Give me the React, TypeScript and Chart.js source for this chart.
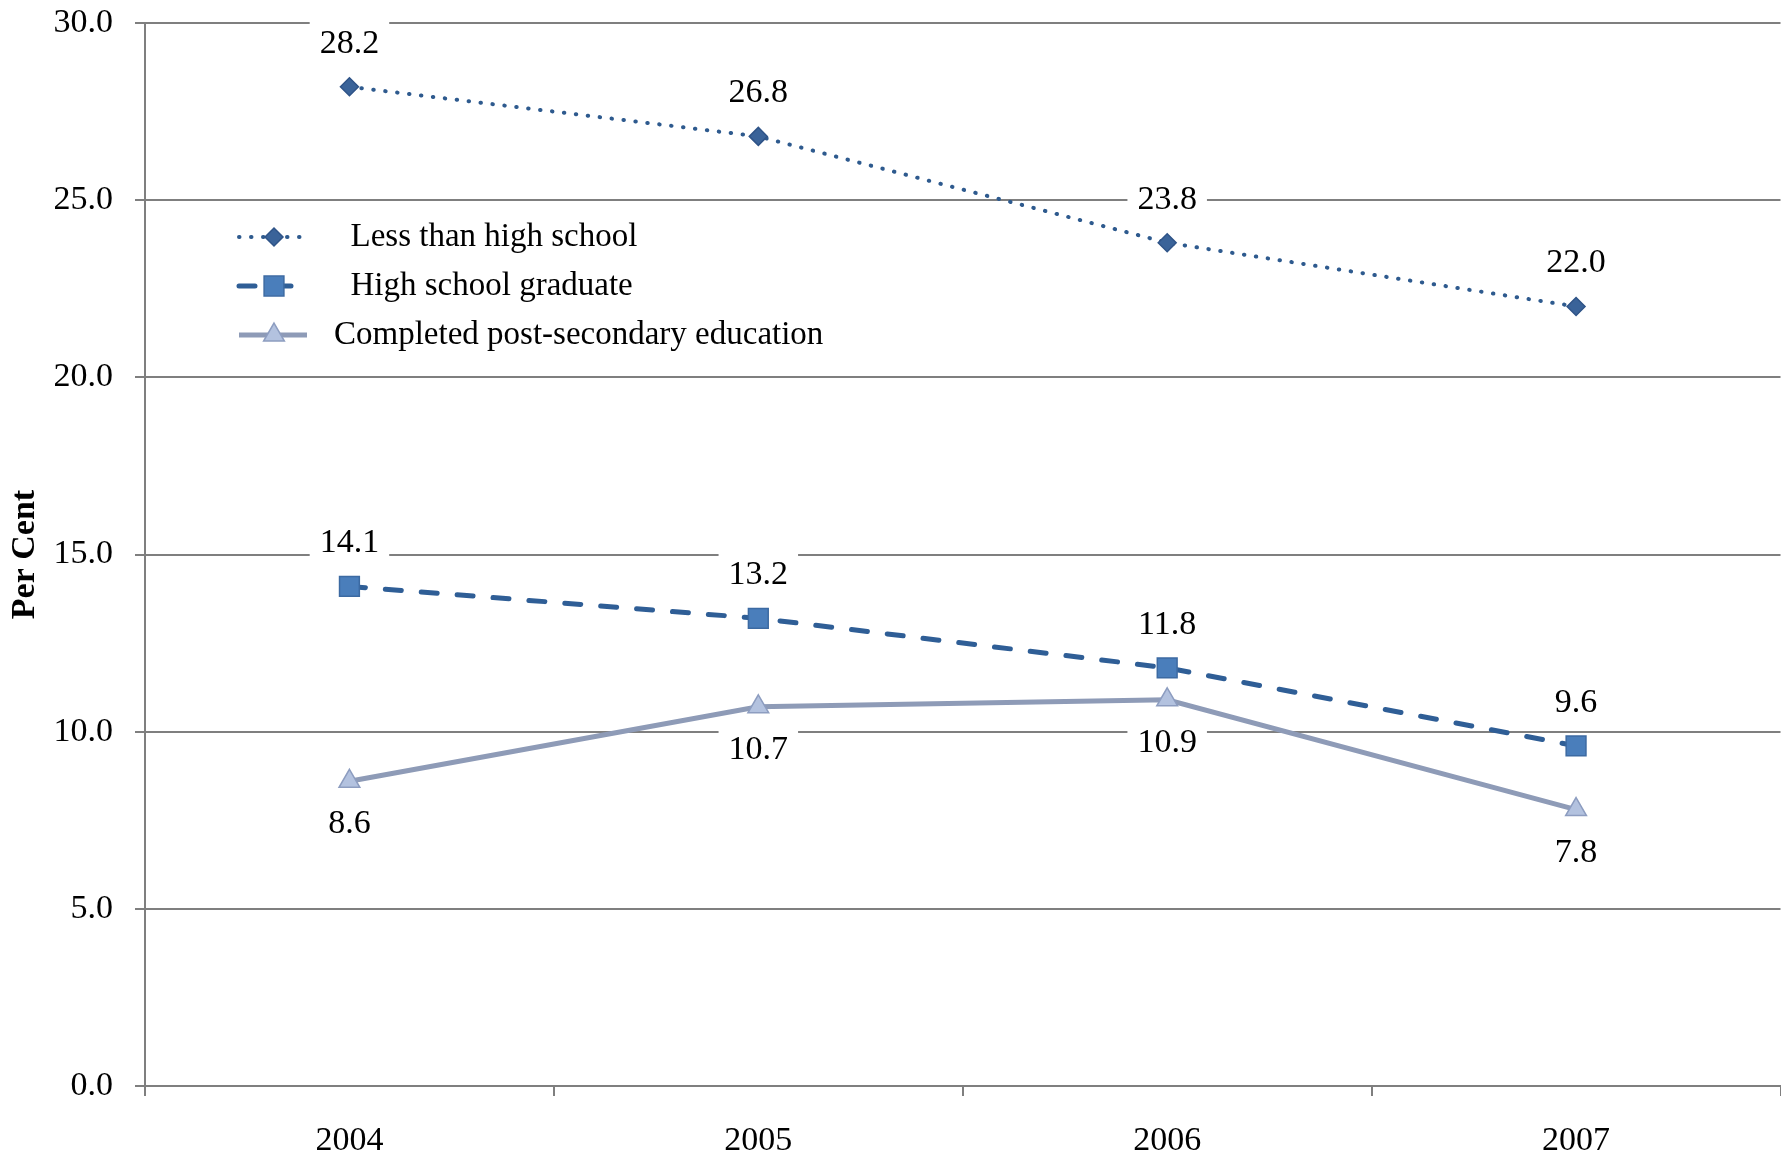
import React, { useEffect, useRef } from "react";
import { Chart, registerables } from "chart.js";

Chart.register(...registerables);

// ---- data ----
const categories = ["2004", "2005", "2006", "2007"];
const lessThanHighSchool = [28.2, 26.8, 23.8, 22.0];
const highSchoolGraduate = [14.1, 13.2, 11.8, 9.6];
const postSecondary = [8.6, 10.7, 10.9, 7.8];
const seriesLabels = [
  "  Less than high school",
  "  High school graduate",
  "Completed post-secondary education",
];
const labelPlacement = ["above", "above", "below"];
const yMin = 0;
const yMax = 30;
const yStep = 5;
const yTitle = "Per Cent";

const FONT = '"Liberation Serif", "Times New Roman", serif';
const GRID = "#7F7F7F";

type Marker = { style: string; radius: number; fill: string; stroke: string };

function drawMarker(ctx: CanvasRenderingContext2D, m: Marker, x: number, y: number) {
  ctx.save();
  ctx.fillStyle = m.fill;
  ctx.strokeStyle = m.stroke;
  ctx.lineWidth = 1.5;
  ctx.setLineDash([]);
  ctx.beginPath();
  const r = m.radius;
  if (m.style === "rectRot") {
    ctx.moveTo(x - r, y);
    ctx.lineTo(x, y - r);
    ctx.lineTo(x + r, y);
    ctx.lineTo(x, y + r);
    ctx.closePath();
  } else if (m.style === "rect") {
    const s = Math.SQRT1_2 * r;
    ctx.rect(x - s, y - s, 2 * s, 2 * s);
  } else {
    for (let k = 0; k < 3; k++) {
      const a = (k * 2 * Math.PI) / 3;
      const px = x + Math.sin(a) * r;
      const py = y - Math.cos(a) * r;
      if (k === 0) ctx.moveTo(px, py);
      else ctx.lineTo(px, py);
    }
    ctx.closePath();
  }
  ctx.fill();
  ctx.stroke();
  ctx.restore();
}

const dataLabelPlugin = {
  id: "dataLabelsCustom",
  afterDatasetsDraw(chart: any) {
    const ctx: CanvasRenderingContext2D = chart.ctx;
    ctx.save();
    ctx.font = `34px ${FONT}`;
    ctx.textAlign = "center";
    ctx.textBaseline = "middle";
    chart.data.datasets.forEach((ds: any, i: number) => {
      const meta = chart.getDatasetMeta(i);
      const above = labelPlacement[i] === "above";
      meta.data.forEach((pt: any, j: number) => {
        const text = Number(ds.data[j]).toFixed(1);
        const x = pt.x;
        const y = pt.y + (above ? -44 : 42);
        const w = ctx.measureText(text).width + 20;
        const h = 46;
        ctx.fillStyle = "#ffffff";
        ctx.fillRect(x - w / 2, y - h / 2, w, h);
        ctx.fillStyle = "#000000";
        ctx.fillText(text, x, y + 1);
      });
    });
    ctx.restore();
  },
};

const legendPlugin = {
  id: "legendCustom",
  afterDraw(chart: any) {
    const ctx: CanvasRenderingContext2D = chart.ctx;
    const area = chart.chartArea;
    const x0 = area.left + 94;
    const x1 = area.left + 162;
    const mx = area.left + 129;
    const tx = area.left + 189;
    const rowY = [area.top + 214, area.top + 263, area.top + 312];
    chart.data.datasets.forEach((ds: any, i: number) => {
      const y = rowY[i];
      ctx.save();
      ctx.strokeStyle = ds.borderColor;
      ctx.lineWidth = ds.borderWidth;
      ctx.lineCap = ds.borderCapStyle || "butt";
      ctx.setLineDash(ds.borderDash || []);
      ctx.beginPath();
      ctx.moveTo(x0, y);
      ctx.lineTo(x1, y);
      ctx.stroke();
      ctx.restore();
      drawMarker(
        ctx,
        {
          style: ds.pointStyle,
          radius: ds.pointRadius,
          fill: ds.pointBackgroundColor,
          stroke: ds.pointBorderColor,
        },
        mx,
        y
      );
      ctx.save();
      ctx.font = `33px ${FONT}`;
      ctx.fillStyle = "#000";
      ctx.textAlign = "left";
      ctx.textBaseline = "middle";
      ctx.fillText(ds.label, tx, y);
      ctx.restore();
    });
  },
};

function zeroPadding(scale: any) {
  scale.paddingTop = 0;
  scale.paddingBottom = 0;
  scale.paddingLeft = 0;
  scale.paddingRight = 0;
}

// The line controller reserves ~15.5px of overflow on each side for the
// largest marker; the canvas is made that much wider than the viewport
// (and clipped) so the plot reaches the right edge as in the reference.
const CANVAS_W = 1796;
const CANVAS_H = 1157;

export default function App() {
  const canvasRef = useRef<HTMLCanvasElement | null>(null);

  useEffect(() => {
    if (!canvasRef.current) return;
    const chart = new Chart(canvasRef.current, {
      type: "line",
      data: {
        labels: categories,
        datasets: [
          {
            label: seriesLabels[0],
            data: lessThanHighSchool,
            borderColor: "#2E5A8E",
            borderWidth: 4,
            borderDash: [0.5, 11.5],
            borderCapStyle: "round",
            pointStyle: "rectRot",
            pointRadius: 9,
            pointBackgroundColor: "#3A6399",
            pointBorderColor: "#2F5488",
            pointBorderWidth: 1.5,
            tension: 0,
            fill: false,
          },
          {
            label: seriesLabels[1],
            data: highSchoolGraduate,
            borderColor: "#2F5E96",
            borderWidth: 5,
            borderDash: [16, 20],
            borderCapStyle: "round",
            pointStyle: "rect",
            pointRadius: 14,
            pointBackgroundColor: "#4A7EBB",
            pointBorderColor: "#3C6AA2",
            pointBorderWidth: 1.5,
            tension: 0,
            fill: false,
          },
          {
            label: seriesLabels[2],
            data: postSecondary,
            borderColor: "#8E9BB7",
            borderWidth: 5,
            borderCapStyle: "butt",
            pointStyle: "triangle",
            pointRadius: 12,
            pointBackgroundColor: "#B3C2DF",
            pointBorderColor: "#8D9DC0",
            pointBorderWidth: 1.5,
            tension: 0,
            fill: false,
          },
        ] as any,
      },
      options: {
        responsive: false,
        animation: false,
        devicePixelRatio: 1,
        layout: { padding: { top: 23, right: 0, left: 0, bottom: 0 } },
        plugins: {
          legend: { display: false },
          tooltip: { enabled: false },
        },
        scales: {
          x: {
            type: "category",
            offset: true,
            grid: {
              offset: true,
              drawOnChartArea: false,
              drawTicks: true,
              tickLength: 10,
              color: GRID,
              lineWidth: 2,
            },
            border: { display: true, color: GRID, width: 2 },
            ticks: {
              font: { family: FONT, size: 34 },
              color: "#000",
              padding: 25,
              maxRotation: 0,
              autoSkip: false,
            },
            afterFit: (scale: any) => {
              scale.height = 71;
              zeroPadding(scale);
            },
          },
          y: {
            min: yMin,
            max: yMax,
            ticks: {
              stepSize: yStep,
              font: { family: FONT, size: 34 },
              color: "#000",
              padding: 22,
              callback: (v: any) => Number(v).toFixed(1),
            },
            grid: {
              color: GRID,
              lineWidth: 2,
              drawTicks: true,
              tickLength: 10,
            },
            border: { display: true, color: GRID, width: 2 },
            title: {
              display: true,
              text: yTitle,
              color: "#000",
              font: { family: FONT, size: 34, weight: "bold" },
              padding: { top: 5, bottom: 0 },
            },
            afterFit: (scale: any) => {
              scale.width = 145;
              zeroPadding(scale);
            },
          },
        },
      } as any,
      plugins: [dataLabelPlugin, legendPlugin],
    });
    return () => chart.destroy();
  }, []);

  return (
    <div
      style={{
        position: "fixed",
        left: 0,
        top: 0,
        width: 1781,
        height: 1157,
        overflow: "hidden",
        background: "#fff",
      }}
    >
      <canvas
        ref={canvasRef}
        width={CANVAS_W}
        height={CANVAS_H}
        style={{ display: "block", width: CANVAS_W, height: CANVAS_H }}
      />
    </div>
  );
}
